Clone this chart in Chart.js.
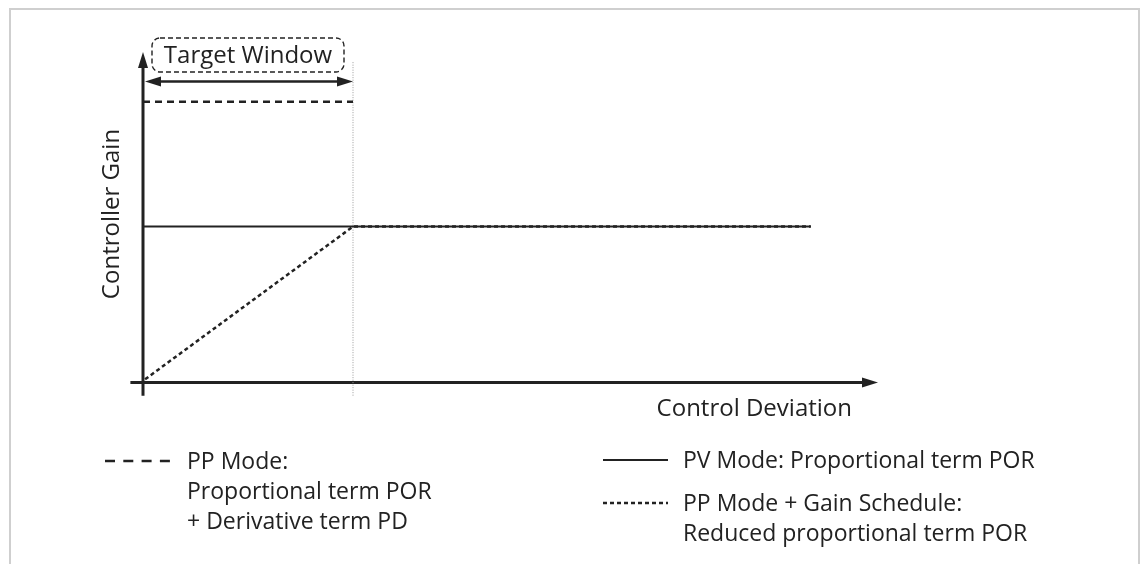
<!DOCTYPE html>
<html>
<head>
<meta charset="utf-8">
<script src="https://cdn.jsdelivr.net/npm/chart.js@4.4.1/dist/chart.umd.min.js"></script>
<style>
html,body{margin:0;padding:0;background:#fff;}
#wrap{position:relative;width:1143px;height:564px;}
#frame{position:absolute;left:9px;top:8px;width:1131px;height:600px;border:2px solid #cfcfcf;box-sizing:border-box;}
canvas{position:absolute;left:0;top:0;}
</style>
</head>
<body>
<div id="wrap"><div id="frame"></div><canvas id="c" width="1143" height="564"></canvas></div>
<script>
// ---- data (x: control deviation, y: controller gain; arbitrary units) ----
const targetWindow = 1.0;          // end of target window on x
const xAxisEnd = 3.5;
const ppX = [0, 1.0];
const ppY = [1.8, 1.8];
const pvX = [0, 3.18];
const pvY = [1.0, 1.0];
const gsX = [0.01, 1.0, 3.18];
const gsY = [0.02, 1.0, 1.0];
const guideX = [1.0, 1.0];
const guideY = [-0.085, 2.06];
const labels = {
  target: 'Target Window',
  yTitle: 'Controller Gain',
  xTitle: 'Control Deviation'
};
const legendLeft = ['PP Mode:', 'Proportional term POR', '+ Derivative term PD'];
const legendRight1 = ['PV Mode: Proportional term POR'];
const legendRight2 = ['PP Mode + Gain Schedule:', 'Reduced proportional term POR'];

const ink = '#222222';
const FONT = '24px "Open Sans", "Noto Sans", sans-serif';
const LFONT = '23px "Open Sans", "Noto Sans", sans-serif';
const pts = (xs, ys) => xs.map((x, i) => ({x, y: ys[i]}));

function arrowHead(ctx, x, y, dir, len, half) {
  ctx.beginPath();
  if (dir === 'right') { ctx.moveTo(x, y); ctx.lineTo(x - len, y - half); ctx.lineTo(x - len, y + half); }
  if (dir === 'left')  { ctx.moveTo(x, y); ctx.lineTo(x + len, y - half); ctx.lineTo(x + len, y + half); }
  if (dir === 'up')    { ctx.moveTo(x, y); ctx.lineTo(x - half, y + len); ctx.lineTo(x + half, y + len); }
  ctx.closePath();
  ctx.fill();
}

const decor = {
  id: 'decor',
  beforeDatasetsDraw(chart) {
    const {ctx, scales: {x, y}} = chart;
    ctx.save();
    ctx.strokeStyle = ink; ctx.fillStyle = ink;
    // axes
    ctx.lineWidth = 3; ctx.setLineDash([]);
    const x0 = x.getPixelForValue(0), y0 = y.getPixelForValue(0);
    ctx.beginPath();
    ctx.moveTo(x.getPixelForValue(-0.06), y0);
    ctx.lineTo(x.getPixelForValue(xAxisEnd) - 10, y0);
    ctx.moveTo(x0, y.getPixelForValue(-0.085));
    ctx.lineTo(x0, y.getPixelForValue(2.12) + 10);
    ctx.stroke();
    arrowHead(ctx, x.getPixelForValue(xAxisEnd), y0, 'right', 16, 5);
    arrowHead(ctx, x0, y.getPixelForValue(2.12), 'up', 16, 5);
    // double arrow for target window
    const ya = y.getPixelForValue(1.93);
    const xr = x.getPixelForValue(targetWindow);
    ctx.lineWidth = 2.5;
    ctx.beginPath();
    ctx.moveTo(x0 + 10, ya); ctx.lineTo(xr - 10, ya); ctx.stroke();
    arrowHead(ctx, x0 + 2, ya, 'left', 16, 5);
    arrowHead(ctx, xr, ya, 'right', 16, 5);
    // target window box
    ctx.lineWidth = 1.4; ctx.setLineDash([5, 3]);
    const bx = 152, by = 38, bw = 192, bh = 34, r = 8;
    ctx.beginPath();
    ctx.roundRect(bx, by, bw, bh, r);
    ctx.stroke();
    ctx.setLineDash([]);
    ctx.font = FONT; ctx.textBaseline = 'middle';
    ctx.textAlign = 'center';
    ctx.fillText(labels.target, bx + bw / 2, by + bh / 2 + 1);
    // axis titles
    ctx.textAlign = 'right';
    ctx.fillText(labels.xTitle, 852, 409);
    ctx.save();
    ctx.translate(112, 214); ctx.rotate(-Math.PI / 2);
    ctx.textAlign = 'center';
    ctx.fillText(labels.yTitle, 0, 0);
    ctx.restore();
    // legend
    ctx.font = LFONT;
    ctx.textAlign = 'left';
    const ds = chart.data.datasets;
    const sample = (d, x1, x2, yy) => {
      ctx.save();
      ctx.strokeStyle = d.borderColor; ctx.lineWidth = d.borderWidth;
      ctx.setLineDash(d.legendDash || d.borderDash || []);
      ctx.beginPath(); ctx.moveTo(x1, yy); ctx.lineTo(x2, yy); ctx.stroke();
      ctx.restore();
    };
    sample(ds[0], 105, 170, 461);
    legendLeft.forEach((t, i) => ctx.fillText(t, 187, 462 + i * 30));
    sample(ds[1], 603, 668, 460);
    legendRight1.forEach((t, i) => ctx.fillText(t, 683, 461 + i * 30));
    sample(ds[2], 603, 668, 503);
    legendRight2.forEach((t, i) => ctx.fillText(t, 683, 504 + i * 30));
    ctx.restore();
  }
};

new Chart(document.getElementById('c'), {
  type: 'scatter',
  data: {
    datasets: [
      {label: 'PP Mode', data: pts(ppX, ppY), showLine: true, borderColor: ink, borderWidth: 2.5, borderDash: [7, 5], legendDash: [10, 8.3], pointRadius: 0},
      {label: 'PV Mode', data: pts(pvX, pvY), showLine: true, borderColor: ink, borderWidth: 2, borderDash: [], pointRadius: 0},
      {label: 'PP Mode + Gain Schedule', data: pts(gsX, gsY), showLine: true, borderColor: ink, borderWidth: 2.5, borderDash: [4, 3], pointRadius: 0},
      {label: 'guide', data: pts(guideX, guideY), showLine: true, borderColor: '#9a9a9a', borderWidth: 1, borderDash: [1, 1.5], pointRadius: 0}
    ]
  },
  options: {
    responsive: false,
    animation: false,
    events: [],
    layout: {padding: {left: 122, right: 265, top: 52, bottom: 166}},
    plugins: {legend: {display: false}, tooltip: {enabled: false}},
    scales: {
      x: {type: 'linear', min: -0.1, max: 3.5, display: false},
      y: {type: 'linear', min: -0.1, max: 2.12, display: false}
    },
    elements: {line: {tension: 0}}
  },
  plugins: [decor]
});
</script>
</body>
</html>
